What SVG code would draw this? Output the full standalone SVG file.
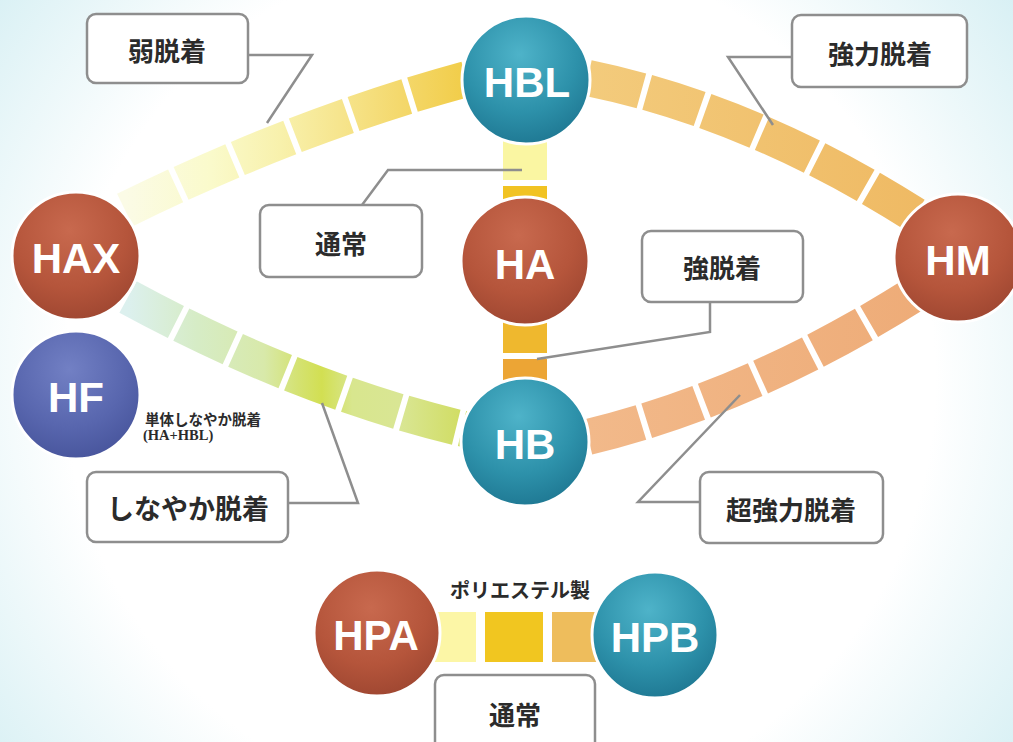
<svg xmlns="http://www.w3.org/2000/svg" width="1013" height="742" viewBox="0 0 1013 742">
<style>
.box{fill:#ffffff;stroke:#8e8e8e;stroke-width:2.5}
.lbl{font-family:"Noto Sans CJK JP",sans-serif;font-weight:700;fill:#2b2b2b;text-anchor:middle;dominant-baseline:central}
.node{font-family:"Liberation Sans",Arial,sans-serif;font-weight:700;font-size:42px;fill:#ffffff;text-anchor:middle;dominant-baseline:central}
.lead{fill:none;stroke:#8e8e8e;stroke-width:2.5;stroke-linejoin:miter}
.arc{fill:none;stroke-width:36;stroke-linecap:butt}
.ring{stroke:#ffffff;stroke-width:3}
</style>
<defs>
<radialGradient id="bg" cx="500" cy="380" r="640" gradientUnits="userSpaceOnUse">
<stop offset="0.68" stop-color="#ffffff"/>
<stop offset="1" stop-color="#d8f0f4"/>
</radialGradient>
<radialGradient id="teal" cx="0.45" cy="0.3" r="0.75">
<stop offset="0" stop-color="#4eb3c9"/>
<stop offset="0.6" stop-color="#2d91aa"/>
<stop offset="1" stop-color="#1d7590"/>
</radialGradient>
<radialGradient id="red" cx="0.45" cy="0.3" r="0.75">
<stop offset="0" stop-color="#c8694e"/>
<stop offset="0.6" stop-color="#b5553b"/>
<stop offset="1" stop-color="#9c4530"/>
</radialGradient>
<radialGradient id="blue" cx="0.45" cy="0.3" r="0.75">
<stop offset="0" stop-color="#7280c4"/>
<stop offset="0.6" stop-color="#5866ae"/>
<stop offset="1" stop-color="#46539a"/>
</radialGradient>
<linearGradient id="gUL" gradientUnits="userSpaceOnUse" x1="125" y1="0" x2="470" y2="0">
<stop offset="0" stop-color="#fbfbe6"/>
<stop offset="0.25" stop-color="#fafacb"/>
<stop offset="0.45" stop-color="#f8f1ac"/>
<stop offset="0.62" stop-color="#f6e58e"/>
<stop offset="0.8" stop-color="#f4d86c"/>
<stop offset="1" stop-color="#f1cc46"/>
</linearGradient>
<linearGradient id="gUR" gradientUnits="userSpaceOnUse" x1="588" y1="0" x2="915" y2="0">
<stop offset="0" stop-color="#f3cb7c"/>
<stop offset="1" stop-color="#efba64"/>
</linearGradient>
<linearGradient id="gLL" gradientUnits="userSpaceOnUse" x1="128" y1="0" x2="468" y2="0">
<stop offset="0" stop-color="#dcf0ee"/>
<stop offset="0.2" stop-color="#d6ecc6"/>
<stop offset="0.4" stop-color="#d8e9aa"/>
<stop offset="0.5" stop-color="#d4e272"/>
<stop offset="0.57" stop-color="#d2df52"/>
<stop offset="0.66" stop-color="#d8e68e"/>
<stop offset="0.8" stop-color="#d9e694"/>
<stop offset="1" stop-color="#d0dc5e"/>
</linearGradient>
<linearGradient id="gLR" gradientUnits="userSpaceOnUse" x1="588" y1="0" x2="918" y2="0">
<stop offset="0" stop-color="#f2b98a"/>
<stop offset="1" stop-color="#eeac78"/>
</linearGradient>
</defs>
<rect x="0" y="0" width="1013" height="742" fill="url(#bg)"/>

<g id="connectors">
<path class="arc" d="M125,210 Q300,124 470,78" stroke="url(#gUL)" stroke-dasharray="56 6"/>
<path class="arc" d="M588,78 Q753,112 915,215" stroke="url(#gUR)" stroke-dasharray="55 6"/>
<path class="arc" d="M128,297 Q301,391 468,430" stroke="url(#gLL)" stroke-dasharray="54 6"/>
<path class="arc" d="M588,437 Q750,398 918,292" stroke="url(#gLR)" stroke-dasharray="55 6"/>
<rect x="503" y="138" width="44" height="42" fill="#faf6a2"/>
<rect x="503" y="186" width="44" height="24" fill="#f1c322"/>
<rect x="503" y="316" width="44" height="37" fill="#efb82e"/>
<rect x="503" y="359" width="44" height="26" fill="#eca535"/>
<rect x="434" y="612" width="42" height="50" fill="#fcf6a6"/>
<rect x="485" y="612" width="58" height="50" fill="#f1c620"/>
<rect x="552" y="612" width="45" height="50" fill="#eebd5c"/>
<polyline class="lead" points="248,55 312,55 267,123"/>
<polyline class="lead" points="362,205 388,170 522,170"/>
<polyline class="lead" points="792,57 728,57 773,125"/>
<polyline class="lead" points="710,302 710,332 537,359"/>
<polyline class="lead" points="288,503 358,503 322,403"/>
<polyline class="lead" points="700,502 638,502 740,395"/>
</g>

<g id="node-HBL"><circle class="ring" cx="526" cy="80" r="64" fill="url(#teal)"/><text class="node" x="527" y="82">HBL</text></g>
<g id="node-HAX"><circle class="ring" cx="76" cy="256" r="64" fill="url(#red)"/><text class="node" x="76" y="258">HAX</text></g>
<g id="node-HA"><circle class="ring" cx="525" cy="261" r="64" fill="url(#red)"/><text class="node" x="525" y="264">HA</text></g>
<g id="node-HM"><circle class="ring" cx="958" cy="258" r="64" fill="url(#red)"/><text class="node" x="958" y="260">HM</text></g>
<g id="node-HF"><circle class="ring" cx="76" cy="395" r="64" fill="url(#blue)"/><text class="node" x="76" y="397">HF</text></g>
<g id="node-HB"><circle class="ring" cx="525" cy="442" r="64" fill="url(#teal)"/><text class="node" x="525" y="444">HB</text></g>
<g id="node-HPA"><circle class="ring" cx="377" cy="633" r="63" fill="url(#red)"/><text class="node" x="376" y="635">HPA</text></g>
<g id="node-HPB"><circle class="ring" cx="655" cy="635" r="63" fill="url(#teal)"/><text class="node" x="655" y="637">HPB</text></g>

<g id="label-weak"><rect class="box" x="87" y="14" width="161" height="69" rx="9"/><text class="lbl" x="167" y="49" font-size="26">弱脱着</text></g>
<g id="label-normal-top"><rect class="box" x="260" y="205" width="162" height="72" rx="9"/><text class="lbl" x="341" y="242" font-size="26">通常</text></g>
<g id="label-strong-power"><rect class="box" x="792" y="15" width="175" height="72" rx="9"/><text class="lbl" x="880" y="52" font-size="26">強力脱着</text></g>
<g id="label-strong"><rect class="box" x="642" y="231" width="161" height="71" rx="9"/><text class="lbl" x="722" y="266" font-size="26">強脱着</text></g>
<g id="label-flexible"><rect class="box" x="87" y="472" width="201" height="70" rx="9"/><text class="lbl" x="188" y="507" font-size="27">しなやか脱着</text></g>
<g id="label-super"><rect class="box" x="700" y="472" width="183" height="71" rx="9"/><text class="lbl" x="791" y="508" font-size="26">超強力脱着</text></g>
<g id="label-normal-bottom"><rect class="box" x="435" y="675" width="160" height="80" rx="9"/><text class="lbl" x="515" y="713" font-size="26">通常</text></g>
<g id="label-polyester"><text class="lbl" x="520" y="589" font-size="20">ポリエステル製</text></g>
<g id="label-hf"><text class="lbl" x="145" y="418" font-size="14.5" style="text-anchor:start">単体しなやか脱着</text><text class="lbl" x="143" y="435" font-size="14.5" style="text-anchor:start;font-family:'Liberation Serif','Noto Sans CJK JP',serif">(HA+HBL)</text></g>
</svg>
